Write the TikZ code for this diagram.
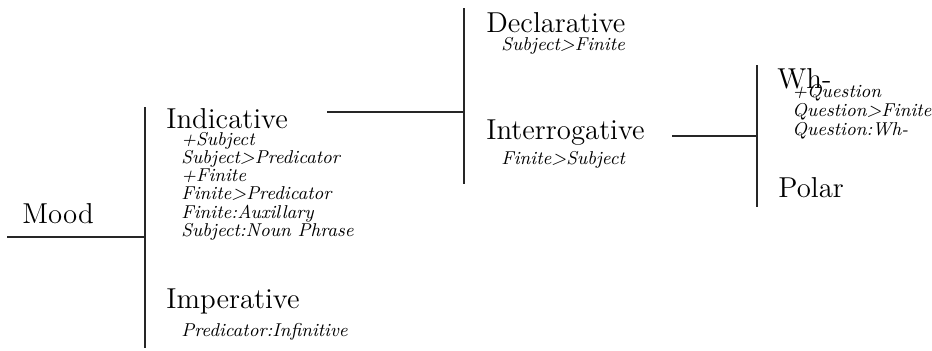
\documentclass[tikz,border=0pt]{standalone}
\begin{document}
% one unit = half a point; y grows downwards
% feature blocks are anchored at the baseline of their last line
\begin{tikzpicture}[x=0.5pt,y=-0.5pt,
  branch/.style={line width=0.75pt, draw=black!85},
  term/.style={anchor=base west, inner sep=0pt, font=\fontsize{14.4}{17}\selectfont},
  feat/.style={anchor=base west, inner sep=0pt, align=left,
               font=\fontsize{9.3}{9.15}\selectfont\itshape},
  featx/.style={feat, font=\fontsize{9.3}{8}\selectfont\itshape}]
\useasboundingbox (0,0) rectangle (932,350);

% entry condition
\node[term] (mood) at (22,223) {Mood};
\coordinate (moodL) at (7,237);
\coordinate (moodR) at (145,237);
\draw[branch] (moodL) -- (moodR);

% first system: Indicative / Imperative
\coordinate (s1top) at (145,107);
\coordinate (s1bot) at (145,348);
\draw[branch] (s1top) -- (s1bot);
\node[term] (ind) at (166,128) {Indicative};
\node[feat] (indf) at (181,236.5) {+Subject\\Subject>Predicator\\+Finite\\Finite>Predicator\\Finite:Auxillary\\Subject:Noun Phrase};
\node[term] (imp) at (166,308) {Imperative};
\node[feat] (impf) at (181,336) {Predicator:Infinitive};

% second system: Declarative / Interrogative
\coordinate (indR) at (327,112);
\coordinate (s2mid) at (464,112);
\coordinate (s2top) at (464,8);
\coordinate (s2bot) at (464,184);
\draw[branch] (indR) -- (s2mid);
\draw[branch] (s2top) -- (s2bot);
\node[term] (decl) at (486,32) {Declarative};
\node[feat] (declf) at (501,50) {Subject>Finite};
\node[term] (inter) at (486,139) {Interrogative};
\node[feat] (interf) at (501,164) {Finite>Subject};

% third system: Wh- / Polar
\coordinate (interR) at (672,136);
\coordinate (s3mid) at (757,136);
\coordinate (s3top) at (757,65);
\coordinate (s3bot) at (757,207);
\draw[branch] (interR) -- (s3mid);
\draw[branch] (s3top) -- (s3bot);
\node[term] (wh) at (777,88) {Wh-};
\node[featx] (whf) at (792,135) {+Question\\Question>Finite\\Question:Wh-};
\node[term] (polar) at (778,197) {Polar};
\end{tikzpicture}
\end{document}
